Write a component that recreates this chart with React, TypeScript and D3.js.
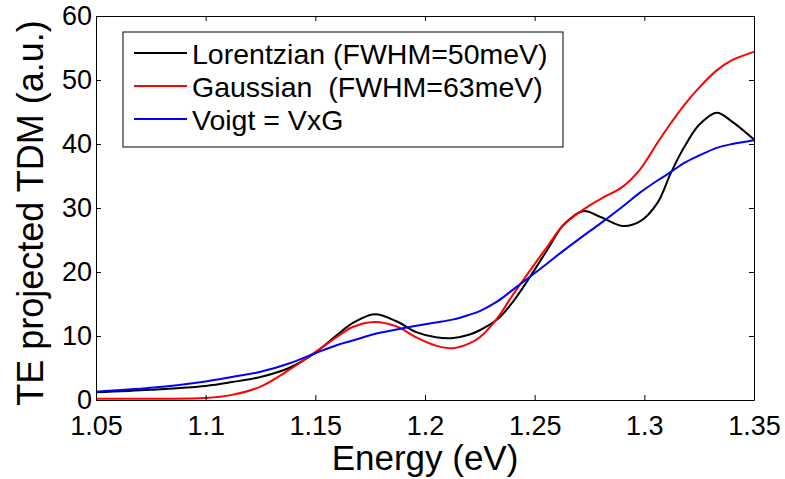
import { useEffect, useRef } from 'react'
import * as d3 from 'd3'

const energies = [
  1.05, 1.075, 1.1, 1.112, 1.125, 1.138, 1.15, 1.16, 1.167, 1.177, 1.187, 1.196, 1.205, 1.213, 1.22, 1.225,
  1.233, 1.24, 1.248, 1.256, 1.263, 1.272, 1.28, 1.29, 1.298, 1.306, 1.312, 1.318, 1.325, 1.333, 1.34, 1.35,
]
const lorentzian = [
  1.2, 1.6, 2.2, 2.8, 3.6, 5.0, 7.4, 10.2, 12.0, 13.4, 12.3, 10.6, 9.8, 9.7, 10.2, 10.9,
  12.6, 15.3, 19.3, 23.6, 27.3, 29.5, 28.6, 27.2, 27.9, 30.8, 35.4, 39.4, 43.0, 44.9, 43.5, 40.7,
]
const gaussian = [
  0.2, 0.2, 0.3, 0.8, 2.1, 4.7, 7.5, 9.9, 11.4, 12.2, 11.5, 9.8, 8.5, 8.1, 8.8, 9.8,
  12.8, 16.4, 20.3, 24.1, 27.3, 29.7, 31.4, 33.3, 36.0, 40.2, 43.2, 46.0, 48.8, 51.5, 53.1, 54.4,
]
const voigt = [
  1.3, 1.9, 2.9, 3.6, 4.4, 5.7, 7.3, 8.6, 9.3, 10.3, 11.0, 11.6, 12.1, 12.6, 13.3, 13.9,
  15.4, 17.2, 19.3, 21.4, 23.3, 25.6, 27.6, 30.2, 32.4, 34.3, 35.6, 37.0, 38.2, 39.4, 40.0, 40.6,
]

const seriesNames = ['Lorentzian (FWHM=50meV)', 'Gaussian  (FWHM=63meV)', 'Voigt = VxG']
const seriesColors = ['#000000', '#ff0000', '#0000ff']

const xTicks = [1.05, 1.1, 1.15, 1.2, 1.25, 1.3, 1.35]
const yTicks = [0, 10, 20, 30, 40, 50, 60]

const W = 785
const H = 479
const FONT = '"Liberation Sans", Arial, Helvetica, sans-serif'

export default function App() {
  const svgRef = useRef<SVGSVGElement | null>(null)

  useEffect(() => {
    const svgElement = svgRef.current
    if (!svgElement) return
    const svg = d3.select(svgElement)
    svg.selectAll('*').remove()

    const margin = { top: 16, right: 31, bottom: 79, left: 96 }
    const innerWidth = W - margin.left - margin.right
    const innerHeight = H - margin.top - margin.bottom

    const x = d3.scaleLinear().domain([1.05, 1.35]).range([0, innerWidth])
    const y = d3.scaleLinear().domain([0, 60]).range([innerHeight, 0])

    const g = svg.append('g').attr('transform', `translate(${margin.left},${margin.top})`)

    const series = [lorentzian, gaussian, voigt]
    const line = d3
      .line<number>()
      .x((_, i) => x(energies[i]))
      .y((d) => y(d))
      .curve(d3.curveCatmullRom.alpha(0.5))

    series.forEach((values, i) => {
      g.append('path')
        .datum(values)
        .attr('fill', 'none')
        .attr('stroke', seriesColors[i])
        .attr('stroke-width', 2)
        .attr('stroke-linejoin', 'round')
        .attr('d', line)
    })

    const styleAxis = (sel: d3.Selection<SVGGElement, unknown, null, undefined>) => {
      sel.attr('font-family', FONT).attr('font-size', 27)
      sel.selectAll('line').attr('stroke', '#000')
      sel.select('.domain').attr('stroke', '#000')
      sel.selectAll('text').attr('fill', '#000')
    }

    g.append('g')
      .attr('transform', `translate(0,${innerHeight})`)
      .call(d3.axisBottom(x).tickValues(xTicks).tickSize(-5).tickSizeOuter(0).tickPadding(16).tickFormat((d) => String(d)))
      .call(styleAxis)

    g.append('g')
      .call(d3.axisLeft(y).tickValues(yTicks).tickSize(-5).tickSizeOuter(0).tickPadding(4))
      .call(styleAxis)

    g.append('g')
      .call(d3.axisTop(x).tickValues(xTicks).tickSize(-5).tickSizeOuter(0).tickFormat(() => ''))
      .call(styleAxis)

    g.append('g')
      .attr('transform', `translate(${innerWidth},0)`)
      .call(d3.axisRight(y).tickValues(yTicks).tickSize(-5).tickSizeOuter(0).tickFormat(() => ''))
      .call(styleAxis)

    // axis labels
    svg
      .append('text')
      .attr('x', margin.left + innerWidth / 2)
      .attr('y', 470)
      .attr('text-anchor', 'middle')
      .attr('font-family', FONT)
      .attr('font-size', 35)
      .attr('fill', '#000')
      .text('Energy (eV)')

    svg
      .append('text')
      .attr('transform', `translate(43,${margin.top + innerHeight / 2 + 5}) rotate(-90)`)
      .attr('text-anchor', 'middle')
      .attr('font-family', FONT)
      .attr('font-size', 36)
      .attr('fill', '#000')
      .text('TE projected TDM (a.u.)')

    // legend
    const legend = svg.append('g').attr('transform', 'translate(123,32)')
    legend
      .append('rect')
      .attr('width', 440)
      .attr('height', 115)
      .attr('fill', '#fff')
      .attr('stroke', '#000')
      .attr('stroke-width', 1)

    seriesNames.forEach((name, i) => {
      const rowY = 32 + i * 33
      legend
        .append('line')
        .attr('x1', 11)
        .attr('x2', 64)
        .attr('y1', rowY - 11)
        .attr('y2', rowY - 11)
        .attr('stroke', seriesColors[i])
        .attr('stroke-width', 2)
      legend
        .append('text')
        .attr('x', 69)
        .attr('y', rowY)
        .attr('font-family', FONT)
        .attr('font-size', 28.5)
        .attr('fill', '#000')
        .attr('xml:space', 'preserve')
        .style('white-space', 'pre')
        .text(name)
    })
  }, [])

  return (
    <svg
      ref={svgRef}
      width={W}
      height={H}
      viewBox={`0 0 ${W} ${H}`}
      style={{ position: 'absolute', left: 0, top: 0, background: '#fff', display: 'block' }}
    />
  )
}
